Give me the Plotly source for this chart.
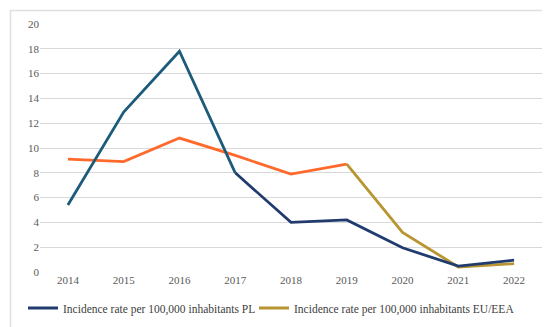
import plotly.graph_objects as go

years = ["2014", "2015", "2016", "2017", "2018", "2019", "2020", "2021", "2022"]
pl_values = [5.4, 12.9, 17.8, 8.0, 4.0, 4.2, 1.95, 0.48, 0.95]
eu_values = [9.1, 8.9, 10.8, 9.4, 7.9, 8.7, 3.2, 0.4, 0.67]
pl_name = "Incidence rate per 100,000 inhabitants PL"
eu_name = "Incidence rate per 100,000 inhabitants EU/EEA"
y_ticks = [0, 2, 4, 6, 8, 10, 12, 14, 16, 18, 20]

PL_A, PL_B = "#1d5b7b", "#213b6e"
EU_A, EU_B = "#ff6a2c", "#b89530"
font = "Liberation Serif, DejaVu Serif, serif"

fig = go.Figure()
fig.add_trace(go.Scatter(x=years[:6], y=eu_values[:6], mode="lines",
                         line=dict(color=EU_A, width=2.8), showlegend=False, hoverinfo="skip"))
fig.add_trace(go.Scatter(x=years[5:], y=eu_values[5:], mode="lines",
                         line=dict(color=EU_B, width=2.8), name=eu_name, legend="legend2"))
fig.add_trace(go.Scatter(x=years[:4], y=pl_values[:4], mode="lines",
                         line=dict(color=PL_A, width=2.8), showlegend=False, hoverinfo="skip"))
fig.add_trace(go.Scatter(x=years[3:], y=pl_values[3:], mode="lines",
                         line=dict(color=PL_B, width=2.8), name=pl_name, legend="legend"))

W, H = 550, 327
ml, mr, mt, mb = 32, 16, 16, 63
pw, ph = W - ml - mr, H - mt - mb


def px_x(p):
    return (p - ml) / pw


def px_y(p):
    return (H - mb - p) / ph


legend_common = dict(orientation="h", xref="container", yref="container",
                     xanchor="left", y=27 / H, yanchor="middle",
                     font=dict(size=11.5, color="#404040", family=font),
                     itemwidth=30, bgcolor="rgba(0,0,0,0)")

fig.update_layout(
    width=W, height=H,
    margin=dict(l=ml, r=mr, t=mt, b=mb, autoexpand=False),
    paper_bgcolor="white", plot_bgcolor="white",
    font=dict(family=font, size=11, color="#595959"),
    xaxis=dict(type="category", range=[-0.5, 8.5], showgrid=False, showline=False,
               ticks="", tickfont=dict(size=11, color="#595959")),
    yaxis=dict(range=[0, 20], tickvals=y_ticks, showgrid=True, gridcolor="#d9d9d9",
               gridwidth=1, zeroline=False, showline=False, ticks="",
               tickfont=dict(size=11, color="#595959")),
    legend=dict(x=15 / W, **legend_common),
    legend2=dict(x=246 / W, **legend_common),
    shapes=[dict(type="rect", xref="paper", yref="paper",
                 x0=px_x(2.5), x1=px_x(548), y0=px_y(322.5), y1=px_y(2.5),
                 line=dict(color="#e0e0e0", width=1.5), layer="above")],
)

fig.write_html("out.html")
